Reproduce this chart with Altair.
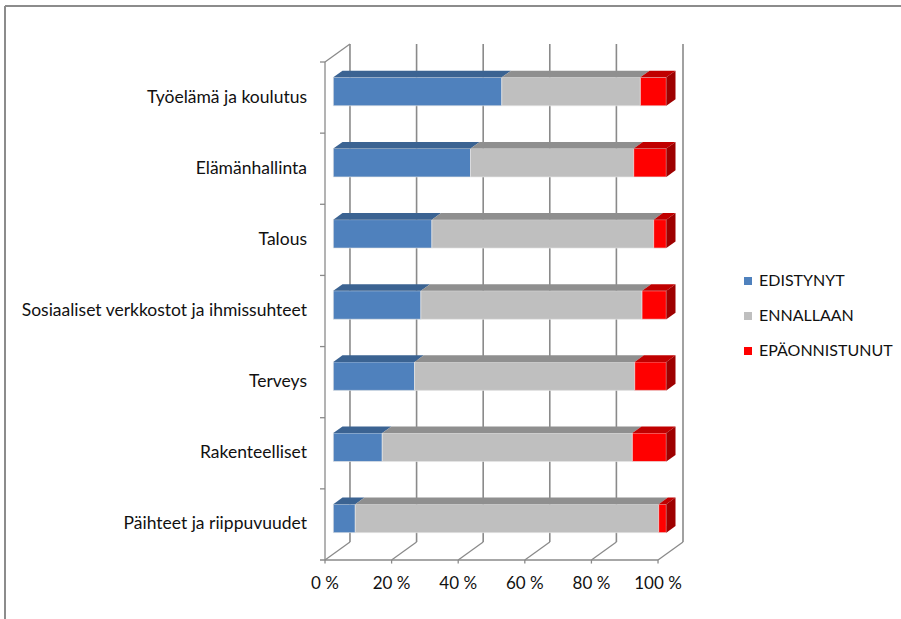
import altair as alt
import pandas as pd

# ---- data -----------------------------------------------------------------
categories = [
    "Työelämä ja koulutus",
    "Elämänhallinta",
    "Talous",
    "Sosiaaliset verkkostot ja ihmissuhteet",
    "Terveys",
    "Rakenteelliset",
    "Päihteet ja riippuvuudet",
]
series = ["EDISTYNYT", "ENNALLAAN", "EPÄONNISTUNUT"]
edistynyt = [50.6, 41.2, 29.6, 26.3, 24.4, 14.7, 6.6]
ennallaan = [41.6, 49.0, 66.6, 66.4, 66.1, 75.1, 91.1]
epaonnistunut = [7.8, 9.8, 3.8, 7.3, 9.5, 10.2, 2.3]
x_ticks = [0, 20, 40, 60, 80, 100]

front_colors = ["#4F81BD", "#BFBFBF", "#FF0000"]
top_colors = ["#3B6392", "#8F8F8F", "#C00000"]
side_color = "#9E0000"
grid_color = "#8A8A8A"
FONT = "Lato"

# ---- pseudo-3D projection ------------------------------------------------
DX = 7.5      # depth shift along x (percent units)
DY = 0.253    # depth shift along y (row units)
T_FRONT, T_BACK = 0.333, 0.70   # bar depth span (0 = front, 1 = back wall)
HALF = 0.2    # half bar thickness in rows
N = len(categories)
W, H = 358, 516

values = [edistynyt, ennallaan, epaonnistunut]

front_rows, top_rows, side_rows = [], [], []
for i, cat in enumerate(categories):
    k = N - 1 - i
    lo, hi = k + 0.5 - HALF, k + 0.5 + HALF
    v0 = 0.0
    for j, s in enumerate(series):
        v1 = v0 + values[j][i]
        seg = f"{i}-{j}"
        front_rows.append(dict(series=s, cat=cat,
                               x=v0 + DX * T_FRONT, x2=v1 + DX * T_FRONT,
                               y=lo + DY * T_FRONT, y2=hi + DY * T_FRONT))
        for t in (T_FRONT, T_BACK):
            top_rows.append(dict(seg=seg, c=top_colors[j],
                                 x=v0 + DX * t, x2=v1 + DX * t,
                                 y=hi + DY * t))
        if j == len(series) - 1:
            for t in (T_FRONT, T_BACK):
                side_rows.append(dict(seg=seg, x=v1 + DX * t,
                                      y=lo + DY * t, y2=hi + DY * t))
        v0 = v1

front_df = pd.DataFrame(front_rows)
top_df = pd.DataFrame(top_rows)
side_df = pd.DataFrame(side_rows)

xs = alt.Scale(domain=[0, 100 + DX], nice=False, zero=False)
ys = alt.Scale(domain=[0, N + DY], nice=False, zero=False)
X = lambda f: alt.X(f, type="quantitative", scale=xs, axis=None)
Y = lambda f: alt.Y(f, type="quantitative", scale=ys, axis=None)

# ---- walls, floor and axes ------------------------------------------------
tick_df = pd.DataFrame({"v": x_ticks})
tick_df["vb"] = tick_df["v"] + DX
tick_df["label"] = [f"{v} %" for v in x_ticks]

back_grid = alt.Chart(tick_df).mark_rule(color=grid_color, strokeWidth=1.6).encode(
    x=X("vb"), y=alt.Y("y0:Q", scale=ys, axis=None), y2="y1:Q"
).transform_calculate(y0=str(DY), y1=str(N + DY))

floor_grid = alt.Chart(tick_df).mark_rule(color=grid_color, strokeWidth=1.3).encode(
    x=X("v"), x2="vb:Q", y=alt.Y("y0:Q", scale=ys, axis=None), y2="y1:Q"
).transform_calculate(y0="0", y1=str(DY))

floor_ticks = alt.Chart(tick_df).mark_rule(color=grid_color, strokeWidth=1.3).encode(
    x=X("v"), y=alt.Y("y0:Q", scale=ys, axis=None), y2="y1:Q"
).transform_calculate(y0="0", y1="-0.05")

x_labels = alt.Chart(tick_df).mark_text(
    font=FONT, fontSize=17, color="#111111", baseline="middle", dy=24
).encode(x=X("v"), y=alt.Y("y0:Q", scale=ys, axis=None), text="label:N").transform_calculate(y0="0")

edge_df = pd.DataFrame([
    dict(x=-1.5, x2=100, y=0, y2=0),          # front floor edge
    dict(x=0, x2=0, y=0, y2=N),               # front left axis
    dict(x=0, x2=DX, y=N, y2=N + DY),         # left wall top edge
])
edges = alt.Chart(edge_df).mark_rule(color=grid_color, strokeWidth=1.3).encode(
    x=X("x"), x2="x2:Q", y=Y("y"), y2="y2:Q"
)

row_ticks_df = pd.DataFrame({"k": list(range(1, N + 1))})
row_ticks = alt.Chart(row_ticks_df).mark_rule(color=grid_color, strokeWidth=1.3).encode(
    x=alt.X("a:Q", scale=xs, axis=None), x2="b:Q", y=Y("k")
).transform_calculate(a="-1.5", b="0")

label_df = pd.DataFrame({"cat": categories, "k": [N - 1 - i + 0.5 for i in range(N)]})
y_labels = alt.Chart(label_df).mark_text(
    font=FONT, fontSize=17.5, color="#111111", align="right", baseline="middle", dx=-18
).encode(x=alt.X("a:Q", scale=xs, axis=None), y=Y("k"), text="cat:N").transform_calculate(a="0")

# ---- bars -----------------------------------------------------------------
front = alt.Chart(front_df).mark_rect(stroke="#E6E6E6", strokeWidth=0.8, strokeOpacity=0.8).encode(
    x=X("x"), x2="x2:Q", y=Y("y"), y2="y2:Q",
    color=alt.Color(
        "series:N",
        scale=alt.Scale(domain=series, range=front_colors),
        sort=series,
        legend=alt.Legend(
            title=None, orient="none", legendX=415, legendY=229,
            symbolType="square", symbolSize=64, symbolStrokeWidth=0,
            labelFont=FONT, labelFontSize=16, labelColor="#111111",
            rowPadding=19, labelOffset=3,
        ),
    ),
)

top = alt.Chart(top_df).mark_area(orient="horizontal").encode(
    y=Y("y"), x=X("x"), x2="x2:Q", detail="seg:N",
    color=alt.Color("c:N", scale=None),
)

side = alt.Chart(side_df).mark_area(orient="vertical", color=side_color).encode(
    x=X("x"), y=Y("y"), y2="y2:Q", detail="seg:N",
)

# ---- outer frame ----------------------------------------------------------
frame_top = alt.Chart(pd.DataFrame({"a": [0]})).mark_rule(color="#8C8C8C", strokeWidth=2).encode(
    x=alt.value(-320), x2=alt.value(600), y=alt.value(-38)
)
frame_left = alt.Chart(pd.DataFrame({"a": [0]})).mark_rule(color="#8C8C8C", strokeWidth=2).encode(
    x=alt.value(-320), y=alt.value(-38), y2=alt.value(600)
)

chart = alt.layer(
    frame_top, frame_left,
    back_grid, floor_grid, floor_ticks, edges, row_ticks,
    front, top, side,
    x_labels, y_labels,
).properties(
    width=W, height=H,
    padding={"left": 325, "top": 44, "right": 901 - 325 - W, "bottom": 619 - 44 - H},
    autosize=alt.AutoSizeParams(type="none"),
    background="white",
).configure_view(stroke=None)

chart.save("out.html", embed_options={"renderer": "svg", "actions": False})
